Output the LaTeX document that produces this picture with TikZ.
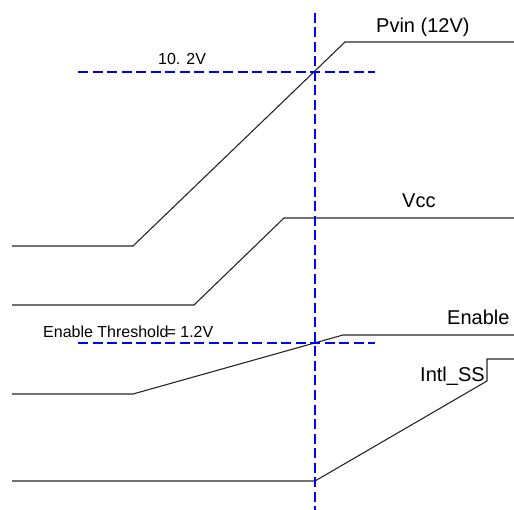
\documentclass[tikz,border=0pt]{standalone}
\usepackage{fontspec}
\setmainfont{Liberation Sans}
\begin{document}
\begin{tikzpicture}[x=1pt,y=-1pt,
  sig/.style={draw=black!85,line width=1.1pt,line join=miter},
  guide/.style={draw=blue,line width=2pt,dash pattern=on 10pt off 4.5pt},
  biglabel/.style={anchor=base west,inner sep=0pt,font=\fontsize{20}{24}\selectfont},
  smalllabel/.style={anchor=base west,inner sep=0pt,font=\fontsize{16}{19}\selectfont}]
\useasboundingbox (0,0) rectangle (514,510);
% Pvin
\coordinate (p0) at (12,246);
\coordinate (p1) at (133,246);
\coordinate (p2) at (345,42);
\coordinate (p3) at (514,42);
\draw[sig] (p0) -- (p1) -- (p2) -- (p3);
% Vcc
\coordinate (v0) at (12,305);
\coordinate (v1) at (194,305);
\coordinate (v2) at (284,218);
\coordinate (v3) at (514,218);
\draw[sig] (v0) -- (v1) -- (v2) -- (v3);
% Enable
\coordinate (e0) at (12,394);
\coordinate (e1) at (133,394);
\coordinate (e2) at (343,335);
\coordinate (e3) at (514,335);
\draw[sig] (e0) -- (e1) -- (e2) -- (e3);
% Intl_SS
\coordinate (s0) at (12,481);
\coordinate (s1) at (315,481);
\coordinate (s2) at (487,381);
\coordinate (s3) at (487,359);
\coordinate (s4) at (514,359);
\draw[sig] (s0) -- (s1) -- (s2) -- (s3) -- (s4);
% guides
\coordinate (gt) at (315,13);
\coordinate (gb) at (315,510);
\coordinate (h1a) at (78,72);
\coordinate (h1b) at (375,72);
\coordinate (h2a) at (78,343);
\coordinate (h2b) at (375,343);
\draw[guide] (gt) -- (gb);
\draw[guide] (h1a) -- (h1b);
\draw[guide] (h2a) -- (h2b);
% labels
\node[biglabel] (lp) at (376,33) {Pvin (12V)};
\node[biglabel] (lv) at (402,208) {Vcc};
\node[biglabel] (le) at (447,325) {Enable};
\node[biglabel] (ls) at (420,382) {Intl\_SS};
\node[smalllabel] (lt) at (43,338) {Enable Threshold\kern-2pt= 1.2V};
\node[smalllabel] (lx) at (158,65) {10. 2V};
\end{tikzpicture}
\end{document}
